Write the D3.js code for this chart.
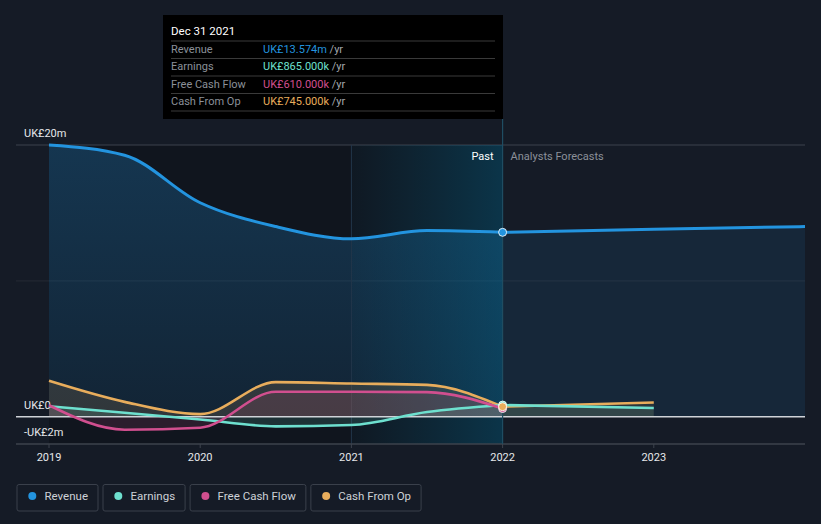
<!DOCTYPE html>
<html><head><meta charset="utf-8">
<script src="https://cdn.jsdelivr.net/npm/d3@7"></script>
<style>
html,body{margin:0;padding:0;background:#151b26;}
svg{display:block;font-family:Roboto,"Noto Sans",sans-serif;}
</style></head>
<body><svg id="c" width="821" height="524"></svg>
<script>
// ---- data (UK£ millions) ----
const pastYears   = [2019, 2019.5, 2020, 2020.5, 2021, 2021.5, 2022];
const revenuePast = [20.0, 19.25, 15.75, 14.0, 13.1, 13.7, 13.574];
const earningsPast= [0.78, 0.3, -0.2, -0.7, -0.6, 0.35, 0.865];
const fcfPast     = [0.85, -0.95, -0.8, 1.85, 1.85, 1.82, 0.61];
const cfoPast     = [2.65, 1.1, 0.2, 2.55, 2.45, 2.35, 0.745];
const revForecastYears = [2022, 2023, 2024];
const revenueForecast  = [13.574, 13.8, 14.0];
const fcForecastYears  = [2022, 2023];
const earningsForecast = [0.865, 0.65];
const cfoForecast      = [0.745, 1.05];
const xTicks = [2019, 2020, 2021, 2022, 2023];
const yLabels = [{v:20, t:"UK£20m"}, {v:0, t:"UK£0"}, {v:-2, t:"-UK£2m"}];
const seriesNames = ["Revenue", "Earnings", "Free Cash Flow", "Cash From Op"];
const seriesColors = ["#2394df", "#6ee0cf", "#d14f8f", "#e8ad5c"];
const tipTitle = "Dec 31 2021";
const tipValues = ["UK£13.574m", "UK£865.000k", "UK£610.000k", "UK£745.000k"];

const svg = d3.select("#c");
const x = d3.scaleLinear().domain([2019, 2024]).range([49, 805]);
const y = d3.scaleLinear().domain([-2, 20]).range([444, 145]);
const L = 16, R = 805;

const defs = svg.append("defs");
const hg = defs.append("linearGradient").attr("id","hl").attr("x1","0").attr("x2","1").attr("y1","0").attr("y2","0");
hg.append("stop").attr("offset","0").attr("stop-color","#006e96").attr("stop-opacity",0.04);
hg.append("stop").attr("offset","1").attr("stop-color","#0078a5").attr("stop-opacity",0.32);
const rg = defs.append("linearGradient").attr("id","rv").attr("x1","0").attr("x2","0").attr("y1","0").attr("y2","1");
rg.append("stop").attr("offset","0").attr("stop-color","#2394df").attr("stop-opacity",0.26);
rg.append("stop").attr("offset","1").attr("stop-color","#2394df").attr("stop-opacity",0.12);

// past dark overlay
svg.append("rect").attr("x", x(2019)).attr("y", y(20)).attr("width", x(2022)-x(2019)).attr("height", y(-2)-y(20))
  .attr("fill","#000").attr("opacity",0.2);

// gridlines
svg.append("line").attr("x1",L).attr("x2",R).attr("y1",y(20)).attr("y2",y(20)).attr("stroke","#3d434d").attr("stroke-width",1);
svg.append("line").attr("x1",L).attr("x2",R).attr("y1",y(10)).attr("y2",y(10)).attr("stroke","#ffffff").attr("stroke-opacity",0.07);

const curve = d3.curveMonotoneX;
const zip = (xs, vs) => xs.map((d,i)=>({x:d, v:vs[i]}));
const area = d3.area().curve(curve).x(d=>x(d.x)).y0(y(0)).y1(d=>y(d.v));
const line = d3.line().curve(curve).x(d=>x(d.x)).y(d=>y(d.v));

// revenue area
svg.append("path").attr("d", area(zip(pastYears, revenuePast))).attr("fill","url(#rv)");
svg.append("path").attr("d", area(zip(revForecastYears, revenueForecast))).attr("fill","#2394df").attr("opacity",0.1);

// highlight 2021-2022
svg.append("rect").attr("x", x(2021)).attr("y", y(20)).attr("width", x(2022)-x(2021)).attr("height", y(-2)-y(20))
  .attr("fill","url(#hl)");
svg.append("line").attr("x1",x(2021)).attr("x2",x(2021)).attr("y1",y(20)).attr("y2",y(-2)).attr("stroke","#22364a").attr("stroke-width",1);

// small series areas
const small = [
  {p: zip(pastYears, earningsPast), f: zip(fcForecastYears, earningsForecast), c: seriesColors[1]},
  {p: zip(pastYears, fcfPast), f: null, c: seriesColors[2]},
  {p: zip(pastYears, cfoPast), f: zip(fcForecastYears, cfoForecast), c: seriesColors[3]},
];
small.forEach(s=>{
  svg.append("path").attr("d", area(s.p)).attr("fill", s.c).attr("opacity",0.14);
  if (s.f) svg.append("path").attr("d", area(s.f)).attr("fill", s.c).attr("opacity",0.1);
});

// zero line and bottom axis
svg.append("line").attr("x1",L).attr("x2",R).attr("y1",y(0)).attr("y2",y(0)).attr("stroke","#cfd3d8").attr("stroke-width",1.5);
svg.append("line").attr("x1",L).attr("x2",R).attr("y1",y(-2)).attr("y2",y(-2)).attr("stroke","#3d434d").attr("stroke-width",1.5);
svg.selectAll(".tk").data(xTicks).join("line").attr("x1",d=>x(d)).attr("x2",d=>x(d)).attr("y1",y(-2)).attr("y2",y(-2)+4).attr("stroke","#3d434d");
svg.selectAll(".xl").data(xTicks).join("text").attr("x",d=>x(d)).attr("y",461).attr("text-anchor","middle")
  .attr("fill","#e6e8eb").attr("font-size",11).text(d=>d);
svg.selectAll(".yl").data(yLabels).join("text").attr("x",24).attr("y",d=>y(d.v)-8).attr("fill","#e6e8eb").attr("font-size",11).text(d=>d.t);

// lines
svg.append("path").attr("d", line(zip(pastYears, revenuePast))).attr("fill","none").attr("stroke",seriesColors[0]).attr("stroke-width",3);
svg.append("path").attr("d", line(zip(revForecastYears, revenueForecast))).attr("fill","none").attr("stroke",seriesColors[0]).attr("stroke-width",3);
[2,0,1].forEach(i=>{
  const s = small[i];
  svg.append("path").attr("d", line(s.p)).attr("fill","none").attr("stroke",s.c).attr("stroke-width",2.6);
  if (s.f) svg.append("path").attr("d", line(s.f)).attr("fill","none").attr("stroke",s.c).attr("stroke-width",2.6);
});

// vertical marker line at 2022
svg.append("line").attr("x1",x(2022)).attr("x2",x(2022)).attr("y1",119).attr("y2",y(-2)).attr("stroke","#1f4d62").attr("stroke-width",1.2);

// Past / Analysts Forecasts
svg.append("text").attr("x",x(2022)-9).attr("y",160).attr("text-anchor","end").attr("fill","#ffffff").attr("font-size",11).text("Past");
svg.append("text").attr("x",x(2022)+8).attr("y",160).attr("fill","#8b9099").attr("font-size",11).text("Analysts Forecasts");

// dots at 2022
const dotVals = [revenuePast[6], earningsPast[6], fcfPast[6], cfoPast[6]];
[0,1,2,3].forEach(i=>{
  svg.append("circle").attr("cx",x(2022)).attr("cy",y(dotVals[i])).attr("r",4)
    .attr("fill",seriesColors[i]).attr("stroke","#ffffff").attr("stroke-opacity",0.85).attr("stroke-width",1);
});

// tooltip
const tip = svg.append("g");
tip.append("rect").attr("x",163).attr("y",15).attr("width",340).attr("height",104).attr("fill","#000000");
tip.append("text").attr("x",171).attr("y",35).attr("fill","#ffffff").attr("font-size",11.5).text(tipTitle);
const sepY = [41, 58.5, 76, 93.5, 111];
sepY.forEach(sy=>tip.append("line").attr("x1",171).attr("x2",495).attr("y1",sy).attr("y2",sy).attr("stroke","#3a3a3a").attr("stroke-width",1));
seriesNames.forEach((n,i)=>{
  const by = 53 + i*17.4;
  tip.append("text").attr("x",171).attr("y",by).attr("fill","#8b9099").attr("font-size",11).text(n);
  const t = tip.append("text").attr("x",263).attr("y",by).attr("font-size",11);
  t.append("tspan").attr("fill",seriesColors[i]).text(tipValues[i]);
  t.append("tspan").attr("fill","#a3a7ad").text(" /yr");
});

// legend
let lx = 17;
seriesNames.forEach((n,i)=>{
  const g = svg.append("g");
  const txt = g.append("text").attr("x",lx+27.5).attr("y",500).attr("fill","#cdd1d7").attr("font-size",11.5).text(n);
  const w = txt.node().getComputedTextLength();
  const bw = 27.5 + w + 10;
  g.insert("rect","text").attr("x",lx).attr("y",484.5).attr("width",bw).attr("height",26.5).attr("rx",2)
    .attr("fill","none").attr("stroke","#3a404b").attr("stroke-width",1);
  g.append("circle").attr("cx",lx+15.3).attr("cy",496).attr("r",4).attr("fill",seriesColors[i]);
  lx += bw + 5;
});
</script></body></html>
